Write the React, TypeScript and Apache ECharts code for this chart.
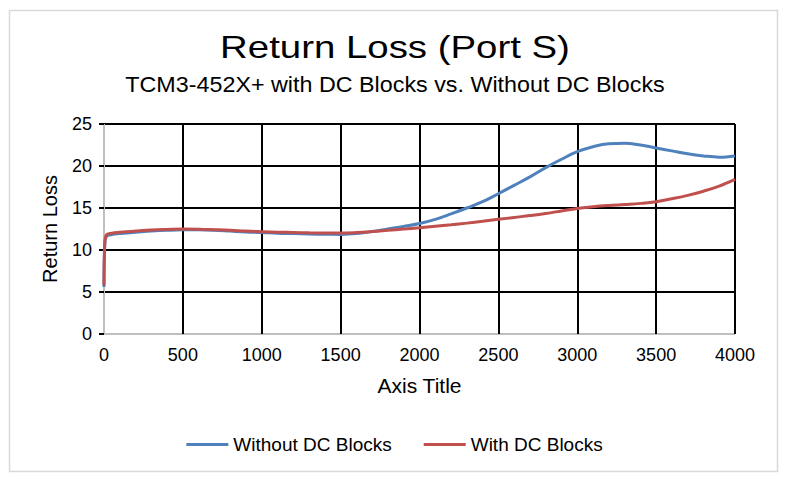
import React, { useEffect, useRef } from "react";
import * as echarts from "echarts";

const freqs = [0, 5, 15, 50, 100, 200, 300, 400, 500, 600, 700, 800, 900, 1000, 1100, 1200, 1300, 1400, 1500, 1600, 1700, 1800, 1900, 2000, 2100, 2200, 2300, 2400, 2500, 2600, 2700, 2800, 2900, 3000, 3100, 3200, 3300, 3400, 3500, 3600, 3700, 3800, 3900, 4000];
const withoutDC = [5.6, 10.6, 11.6, 11.85, 11.95, 12.1, 12.25, 12.35, 12.4, 12.4, 12.35, 12.25, 12.15, 12.08, 12.0, 11.95, 11.9, 11.87, 11.86, 11.95, 12.2, 12.5, 12.8, 13.15, 13.65, 14.3, 15.0, 15.75, 16.7, 17.7, 18.7, 19.8, 20.8, 21.7, 22.3, 22.65, 22.7, 22.5, 22.15, 21.8, 21.45, 21.2, 21.05, 21.2];
const withDC = [5.8, 10.8, 11.8, 12.0, 12.1, 12.25, 12.38, 12.45, 12.5, 12.48, 12.42, 12.35, 12.25, 12.18, 12.12, 12.08, 12.04, 12.02, 12.02, 12.08, 12.2, 12.35, 12.5, 12.65, 12.82, 13.0, 13.2, 13.42, 13.65, 13.88, 14.1, 14.35, 14.65, 14.95, 15.15, 15.3, 15.42, 15.55, 15.75, 16.1, 16.5, 17.0, 17.6, 18.4];

const seriesNames = ["Without DC Blocks", "With DC Blocks"];
const titleText = "Return Loss (Port S)";
const subtitleText = "TCM3-452X+ with DC Blocks vs. Without DC Blocks";
const xAxisTitle = "Axis Title";
const yAxisTitle = "Return Loss";

export default function App() {
  const ref = useRef<HTMLDivElement>(null);
  useEffect(() => {
    if (!ref.current) return;
    const chart = echarts.init(ref.current, undefined, { renderer: "svg" });
    const font = "Arial, 'Liberation Sans', sans-serif";
    chart.setOption({
      animation: false,
      backgroundColor: "#ffffff",
      textStyle: { fontFamily: font },
      graphic: [
        {
          type: "rect",
          shape: { x: 9.5, y: 10.5, width: 768, height: 461 },
          style: { fill: "none", stroke: "#d9d9d9", lineWidth: 1.5 },
          silent: true,
        },
        {
          type: "text",
          x: 395,
          y: 47,
          scaleX: 1.2,
          style: { text: titleText, fontSize: 32, fontFamily: font, fill: "#000", textAlign: "center", textVerticalAlign: "middle" },
        },
        {
          type: "text",
          x: 395,
          y: 84,
          scaleX: 1.06,
          style: { text: subtitleText, fontSize: 22, fontFamily: font, fill: "#000", textAlign: "center", textVerticalAlign: "middle" },
        },
      ],
      legend: {
        top: 430,
        left: "center",
        icon: "rect",
        itemWidth: 42,
        itemHeight: 3,
        itemGap: 32,
        textStyle: { fontSize: 19, color: "#000", fontFamily: font },
        data: seriesNames,
      },
      grid: { left: 104, right: 54, top: 124, bottom: 150, containLabel: false },
      xAxis: {
        type: "value",
        min: 0,
        max: 4000,
        interval: 500,
        name: xAxisTitle,
        nameLocation: "middle",
        nameGap: 41,
        nameTextStyle: { fontSize: 21, color: "#000", fontFamily: font },
        axisLine: { show: false },
        axisTick: { show: false },
        axisLabel: { fontSize: 18, color: "#000", margin: 12, fontFamily: font, formatter: (v: number) => String(v) },
        splitLine: {
          show: true,
          lineStyle: { color: ["#bfbfbf", "#000", "#000", "#000", "#000", "#000", "#000", "#000", "#000"], width: 2 },
        },
      },
      yAxis: {
        type: "value",
        min: 0,
        max: 25,
        interval: 5,
        name: yAxisTitle,
        nameLocation: "middle",
        nameGap: 44,
        nameTextStyle: { fontSize: 20, color: "#000", fontFamily: font },
        axisLine: { show: false },
        axisTick: { show: true, length: 5, lineStyle: { color: "#000", width: 2 } },
        axisLabel: { fontSize: 18, color: "#000", margin: 12, fontFamily: font, formatter: (v: number) => String(v) },
        splitLine: {
          show: true,
          lineStyle: { color: ["#bfbfbf", "#000", "#000", "#000", "#000", "#000"], width: 2 },
        },
      },
      series: [
        {
          name: seriesNames[0],
          type: "line",
          data: freqs.map((f, i) => [f, withoutDC[i]]),
          smooth: 0.4,
          showSymbol: false,
          lineStyle: { color: "#4f81bd", width: 3 },
          itemStyle: { color: "#4f81bd" },
        },
        {
          name: seriesNames[1],
          type: "line",
          data: freqs.map((f, i) => [f, withDC[i]]),
          smooth: 0.4,
          showSymbol: false,
          lineStyle: { color: "#c0504d", width: 3 },
          itemStyle: { color: "#c0504d" },
        },
      ],
    });
    return () => chart.dispose();
  }, []);
  return (
    <div
      ref={ref}
      style={{ position: "fixed", left: 0, top: 0, width: 789, height: 484 }}
    />
  );
}
